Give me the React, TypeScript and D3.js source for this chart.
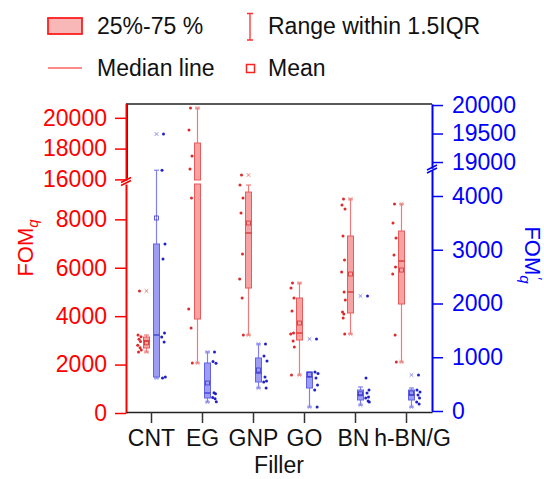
import React, { useRef, useEffect } from "react";
import * as d3 from "d3";

// categories and tick labels
const categories = ["CNT", "EG", "GNP", "GO", "BN", "h-BN/G"];
const redTicksLower = [0, 2000, 4000, 6000, 8000];
const redTicksUpper = [16000, 18000, 20000];
const blueTicksLower = [0, 1000, 2000, 3000, 4000];
const blueTicksUpper = [19000, 19500, 20000];

// FOMq (left axis, red)
const redQ1 = [2685, 3883, 5163, 3015, 4130, 4502];
const redMedian = [2974, 12700, 7435, 3304, 4998, 6278];
const redQ3 = [3139, 18363, 9128, 4750, 7311, 7517];
const redMean = [2900, 11600, 7848, 3717, 5741, 5906];
const redLow = [2520, 2065, 3222, 1570, 3263, 2106];
const redHigh = [3222, 20635, 9417, 5369, 8839, 8633];
const redMax = [5040, 20635, 16285, 5369, 8839, 8633];
const redPoints = [
  [5040, 3220, 3150, 3050, 2950, 2800, 2700, 2600, 2520],
  [20635, 19207, 17518, 16674, 8880, 4295, 3511, 2065],
  [16285, 9417, 8880, 8260, 6567, 5535, 4750, 3222],
  [5369, 5163, 4750, 4213, 3304, 3263, 2974, 2726, 1570],
  [8839, 8591, 8426, 7311, 6319, 5824, 4998, 4667, 4172, 4089, 3924, 3263],
  [8633, 7848, 7228, 6526, 6030, 5741, 3222, 2106]
];

// FOMq' (right axis, blue)
const blueQ1 = [633, 242, 540, 428, 205, 205];
const blueMedian = [1414, 335, 707, 633, 298, 298];
const blueQ3 = [3107, 893, 986, 726, 391, 391];
const blueMean = [3591, 521, 763, 680, 320, 335];
const blueLow = [614, 167, 428, 74, 112, 74];
const blueHigh = [4480, 1098, 1247, 726, 447, 428];
const blueMax = [19491, 1098, 1247, 1340, 2140, 670];
const bluePoints = [
  [19491, 4480, 3107, 2828, 1451, 1377, 1284, 633, 614],
  [1098, 920, 890, 340, 320, 250, 230, 170],
  [1247, 1023, 930, 633, 560, 540, 428],
  [1340, 726, 700, 614, 484, 391, 74],
  [2140, 614, 391, 335, 260, 240, 186, 167],
  [670, 391, 353, 298, 242, 167, 130]
];

const font = "'Liberation Sans', Arial, sans-serif";
const jitter = [0, -1.5, 1.5, -0.5, 1, -1.8, 0.6, 1.8, -1, 0.3, -0.3, 1.2];

const App = () => {
  const svgRef = useRef<SVGSVGElement>(null);

  useEffect(() => {
    const svg = d3.select(svgRef.current);
    svg.selectAll("*").remove();

    const left = 126, right = 432, top = 104, bottom = 412;

    const x = d3.scaleBand().domain(categories).range([left, right]);
    const cx = (c: string) => (x(c) as number) + x.bandwidth() / 2;

    const red = {
      lower: d3.scaleLinear().domain([0, 9460]).range([413, 184]),
      upper: d3.scaleLinear().domain([15960, 20950]).range([180, 103.2]),
      lowMax: 9460,
      upMin: 15960
    };
    const blue = {
      lower: d3.scaleLinear().domain([0, 4480]).range([411, 170.2]),
      upper: d3.scaleLinear().domain([18890, 20020]).range([168.3, 103.9]),
      lowMax: 4480,
      upMin: 18890
    };

    const yOf = (s: any, v: number) => {
      if (v <= s.lowMax) return s.lower(v);
      if (v >= s.upMin) return s.upper(v);
      return null;
    };
    const pieces = (s: any, a: number, b: number) => {
      const out: number[][] = [];
      if (a < s.lowMax) out.push([s.lower(a), s.lower(Math.min(b, s.lowMax))]);
      if (b > s.upMin) out.push([s.upper(Math.max(a, s.upMin)), s.upper(b)]);
      return out;
    };

    // frame
    svg.append("line").attr("x1", left).attr("x2", right).attr("y1", top).attr("y2", top)
      .attr("stroke", "#222").attr("stroke-width", 1.5);
    svg.append("line").attr("x1", 127.5).attr("x2", 127.5).attr("y1", top).attr("y2", 178)
      .attr("stroke", "#222").attr("stroke-width", 1);

    const drawSeries = (s: any, q1: number[], med: number[], q3: number[], mean: number[],
      lo: number[], hi: number[], mx: number[], pts: number[][], boxOff: number, dotOff: number, col: any) => {
      const g = svg.append("g");
      categories.forEach((c, i) => {
        const bx = cx(c) + boxOff;
        const bw = 6;
        // whiskers
        [[hi[i] > q3[i] ? q3[i] : hi[i], hi[i]], [lo[i], q1[i]]].forEach(([a, b]) => {
          pieces(s, a, b).forEach(([y1, y2]) => {
            g.append("line").attr("x1", bx).attr("x2", bx).attr("y1", y1).attr("y2", y2)
              .attr("stroke", col.whisker).attr("stroke-width", 1.2);
          });
        });
        [lo[i], hi[i]].forEach(v => {
          const y = yOf(s, v);
          if (y == null) return;
          g.append("line").attr("x1", bx - 2.5).attr("x2", bx + 2.5).attr("y1", y).attr("y2", y)
            .attr("stroke", col.whisker).attr("stroke-width", 1.2);
        });
        // box
        pieces(s, q1[i], q3[i]).forEach(([y1, y2]) => {
          g.append("rect").attr("x", bx - bw / 2).attr("width", bw)
            .attr("y", Math.min(y1, y2)).attr("height", Math.abs(y1 - y2))
            .attr("fill", col.fill).attr("stroke", col.stroke).attr("stroke-width", 1);
        });
        const ym = yOf(s, med[i]);
        if (ym != null) {
          g.append("line").attr("x1", bx - bw / 2).attr("x2", bx + bw / 2).attr("y1", ym).attr("y2", ym)
            .attr("stroke", col.median).attr("stroke-width", 1.3);
        }
        const ya = yOf(s, mean[i]);
        if (ya != null) {
          g.append("rect").attr("x", bx - 2).attr("y", ya - 2).attr("width", 4).attr("height", 4)
            .attr("fill", "none").attr("stroke", col.median).attr("stroke-width", 0.8);
        }
        // min / max markers
        [lo[i], mx[i]].forEach(v => {
          const y = yOf(s, v);
          if (y == null) return;
          g.append("path").attr("d", `M${bx - 1.8},${y - 1.8}L${bx + 1.8},${y + 1.8}M${bx - 1.8},${y + 1.8}L${bx + 1.8},${y - 1.8}`)
            .attr("stroke", col.cross).attr("stroke-width", 1);
        });
        // data points
        pts[i].forEach((v, k) => {
          const y = yOf(s, v);
          if (y == null) return;
          g.append("circle").attr("cx", cx(c) + dotOff + jitter[k % jitter.length]).attr("cy", y)
            .attr("r", 1.5).attr("fill", col.dot);
        });
      });
    };

    drawSeries(red, redQ1, redMedian, redQ3, redMean, redLow, redHigh, redMax, redPoints, -5, -12,
      { fill: "#f7a3a3", stroke: "#ea5a5a", whisker: "#f07a7a", median: "#d83030", cross: "#e88080", dot: "#e02828" });
    drawSeries(blue, blueQ1, blueMedian, blueQ3, blueMean, blueLow, blueHigh, blueMax, bluePoints, 5, 12,
      { fill: "#9d9df5", stroke: "#6262e6", whisker: "#8080f0", median: "#3a3ad0", cross: "#8a8ae8", dot: "#2020c8" });

    const styleAxis = (g: any, color: string) => {
      g.selectAll("path.domain").attr("stroke", color).attr("stroke-width", 2);
      g.selectAll(".tick line").attr("stroke", color).attr("stroke-width", 1.5);
      g.selectAll(".tick text").attr("fill", color).style("font-size", "23px").style("font-family", font);
    };

    // left axis (two segments)
    [[red.lower, redTicksLower], [red.upper, redTicksUpper]].forEach(([sc, tv]: any) => {
      const g = svg.append("g").attr("transform", `translate(${left},0)`)
        .call(d3.axisLeft(sc).tickValues(tv).tickSize(11).tickSizeOuter(0).tickPadding(8).tickFormat(d3.format("d")));
      styleAxis(g, "#ff0000");
    });
    // right axis
    [[blue.lower, blueTicksLower], [blue.upper, blueTicksUpper]].forEach(([sc, tv]: any) => {
      const g = svg.append("g").attr("transform", `translate(${right},0)`)
        .call(d3.axisRight(sc).tickValues(tv).tickSize(11).tickSizeOuter(0).tickPadding(9).tickFormat(d3.format("d")));
      styleAxis(g, "#0000ff");
    });

    // break marks
    const brk = (bx: number, by: number, color: string) => {
      svg.append("path").attr("d", `M${bx - 5},${by + 2}L${bx + 5},${by - 3}M${bx - 5},${by + 5}L${bx + 5},${by}`)
        .attr("stroke", color).attr("stroke-width", 1.5).attr("fill", "none");
    };
    brk(left, 180.5, "#ff0000");
    brk(right, 168, "#0000ff");

    // bottom axis
    const gx = svg.append("g").attr("transform", `translate(0,${bottom})`)
      .call(d3.axisBottom(x).tickSize(11).tickSizeOuter(0).tickPadding(7));
    gx.selectAll("path.domain").attr("stroke", "#222").attr("stroke-width", 1.5);
    gx.selectAll(".tick line").attr("stroke", "#333").attr("stroke-width", 1.5);
    gx.selectAll(".tick text").attr("fill", "#111").style("font-size", "23px").style("font-family", font)
      .attr("dx", (d: any) => (d === "h-BN/G" ? 6 : d === "BN" ? -2 : 0));

    // axis titles
    svg.append("text").attr("x", (left + right) / 2).attr("y", 473).attr("text-anchor", "middle")
      .attr("fill", "#111").style("font-size", "23px").style("font-family", font).text("Filler");

    const lt = svg.append("text").attr("transform", "translate(33,248) rotate(-90)").attr("text-anchor", "middle")
      .attr("fill", "#ff0000").style("font-size", "22px").style("font-family", font);
    lt.append("tspan").text("FOM");
    lt.append("tspan").attr("dy", 5).style("font-size", "15px").style("font-style", "italic").text("q");

    const rt = svg.append("text").attr("transform", "translate(525,255) rotate(90)").attr("text-anchor", "middle")
      .attr("fill", "#0000ff").style("font-size", "22px").style("font-family", font);
    rt.append("tspan").text("FOM");
    rt.append("tspan").attr("dy", 5).style("font-size", "15px").style("font-style", "italic").text("q");
    rt.append("tspan").attr("dx", -6).attr("dy", -12).style("font-size", "14px").text("\u2032");

    // legend
    const lg = svg.append("g").style("font-family", font).style("font-size", "23px");
    lg.append("rect").attr("x", 48).attr("y", 18).attr("width", 34).attr("height", 16)
      .attr("fill", "#f9b8b8").attr("stroke", "#ff2020").attr("stroke-width", 1.8);
    lg.append("text").attr("x", 97).attr("y", 34).attr("fill", "#111").text("25%-75 %");
    lg.append("path").attr("d", "M247,13.5H253M250,13.5V40M247,40H253")
      .attr("stroke", "#ff3030").attr("stroke-width", 1.3).attr("fill", "none");
    lg.append("text").attr("x", 268).attr("y", 34).attr("fill", "#111").text("Range within 1.5IQR");
    lg.append("line").attr("x1", 48).attr("x2", 82).attr("y1", 68).attr("y2", 68)
      .attr("stroke", "#ff6060").attr("stroke-width", 1.5);
    lg.append("text").attr("x", 97).attr("y", 76).attr("fill", "#111").text("Median line");
    lg.append("rect").attr("x", 246.5).attr("y", 64.5).attr("width", 8).attr("height", 8)
      .attr("fill", "none").attr("stroke", "#ff2020").attr("stroke-width", 1.5);
    lg.append("text").attr("x", 268).attr("y", 76).attr("fill", "#111").text("Mean");
  }, []);

  return (
    <svg
      ref={svgRef}
      width={544}
      height={479}
      style={{ position: "absolute", left: 0, top: 0, background: "#fff" }}
    />
  );
};

export default App;
